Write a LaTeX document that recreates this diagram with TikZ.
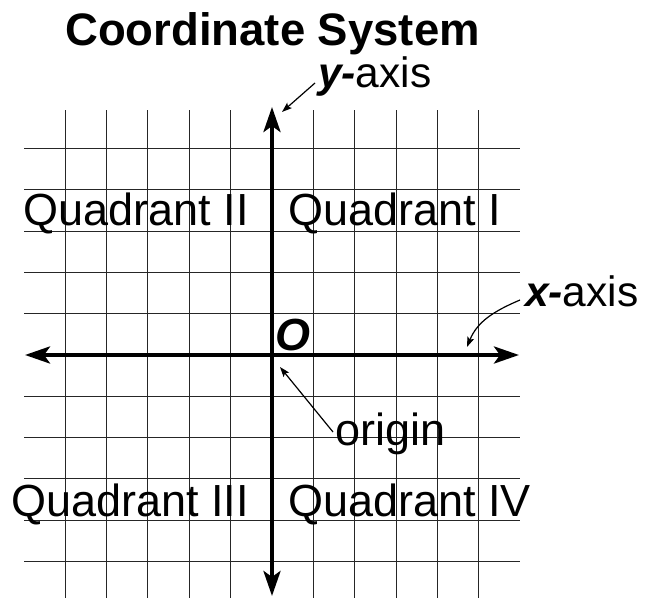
\documentclass[tikz,border=0pt]{standalone}
\usepackage{fontspec}
\setmainfont{Liberation Sans}
\usetikzlibrary{arrows.meta}
\tikzset{
  gridline/.style={line width=1pt, black!85},
  axisline/.style={line width=4pt, {Stealth[length=25pt,width=17pt,inset=6pt]}-{Stealth[length=25pt,width=17pt,inset=6pt]}},
  pointer/.style={line width=1.2pt, -{Stealth[length=10pt,width=7pt,inset=2pt]}},
  lbl/.style={inner sep=0pt, font=\fontsize{45}{50}\selectfont},
  axlbl/.style={inner sep=0pt, font=\fontsize{42.5}{48}\selectfont},
  ttl/.style={inner sep=0pt, font=\fontsize{45.5}{50}\selectfont\bfseries}
}
\begin{document}
\begin{tikzpicture}[x=1pt,y=1pt]
\useasboundingbox (0,0) rectangle (645,-597);
% grid
\foreach \k in {-5,...,-1,1,2,3,4,5} {
  \draw[gridline] ({272+41.35*\k},-110) -- ({272+41.35*\k},-600);
  \draw[gridline] (24,{-355-41.3*\k}) -- (520,{-355-41.3*\k});
}
% axes
\coordinate (xl) at (25,-355);
\coordinate (xr) at (519,-355);
\coordinate (yt) at (272,-107);
\coordinate (yb) at (272,-596);
\draw[axisline] (xl) -- (xr);
\draw[axisline] (yb) -- (yt);
% title
\node[ttl, anchor=base] (title) at (272.5,-45) {Coordinate System};
% axis labels
\node[axlbl, anchor=base west] (ylab) at (318,-87) {\textbf{\textit{y-}}axis};
\node[axlbl, anchor=base west] (xlab) at (525,-306) {\textbf{\textit{x-}}axis};
\node[lbl, anchor=base west] (olab) at (275,-350) {\textbf{\textit{O}}};
\node[lbl, anchor=base west] (orig) at (335,-445) {origin};
% quadrants
\node[lbl, anchor=base east] (q2) at (249,-225) {Quadrant II};
\node[lbl, anchor=base west] (q1) at (288,-225) {Quadrant I};
\node[lbl, anchor=base east] (q3) at (249,-516) {Quadrant III};
\node[lbl, anchor=base west] (q4) at (288,-516) {Quadrant IV};
% pointers
\coordinate (ys) at (315,-83);
\coordinate (ye) at (282,-112);
\draw[pointer] (ys) -- (ye);
\coordinate (xs) at (520,-300);
\coordinate (xe) at (467,-347);
\draw[pointer] (xs) to[out=203,in=68] (xe);
\coordinate (os) at (333,-432);
\coordinate (oe) at (280,-367);
\draw[pointer] (os) -- (oe);
\end{tikzpicture}
\end{document}
